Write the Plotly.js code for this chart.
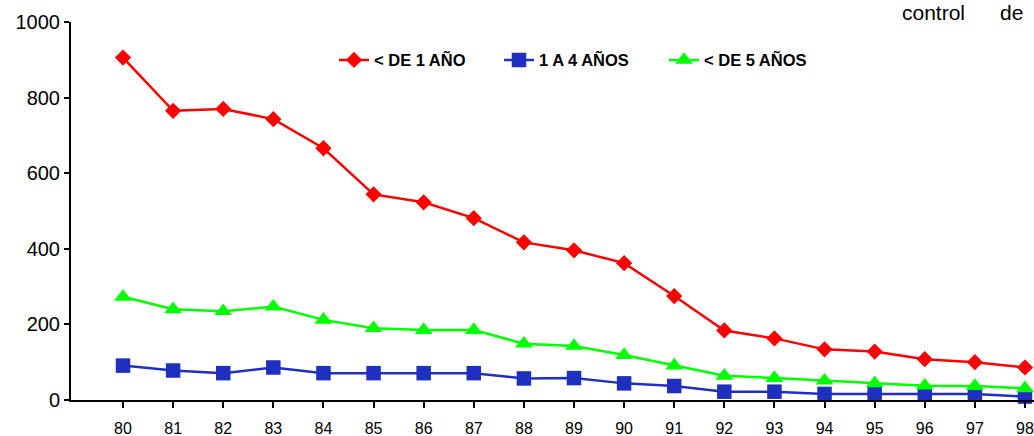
<!DOCTYPE html>
<html><head><meta charset="utf-8">
<script src="https://cdn.plot.ly/plotly-3.0.1.min.js"></script>
<style>html,body{margin:0;padding:0;background:#fff}#chart{width:1034px;height:436px}</style>
</head><body><div id="chart"></div>
<script>
const years = [80,81,82,83,84,85,86,87,88,89,90,91,92,93,94,95,96,97,98];
const yearLabels = ['80','81','82','83','84','85','86','87','88','89','90','91','92','93','94','95','96','97','98'];
const menor1 = [906,765,770,743,666,544,523,481,417,396,362,275,184,163,134,128,108,100,86];
const de1a4 = [91,78,71,86,71,71,71,71,57,58,44,37,22,22,16,16,16,16,9];
const menor5 = [273,240,235,247,212,190,185,185,149,143,119,91,64,58,51,44,38,37,31];
const seriesNames = ['< DE 1 AÑO','1 A 4 AÑOS','< DE 5 AÑOS'];
const yTicks = [0,200,400,600,800,1000];

const font = 'Liberation Sans, Arial, sans-serif';
const traces = [
  {x: years, y: menor1, name: seriesNames[0], mode: 'lines+markers', cliponaxis: false,
   line: {color: '#ff0000', width: 2.5}, marker: {symbol: 'diamond', size: 12.5, color: '#ff0000'}},
  {x: years, y: de1a4, name: seriesNames[1], mode: 'lines+markers', cliponaxis: false,
   line: {color: '#1f2fbf', width: 2.5}, marker: {symbol: 'square', size: 14.5, color: '#1f2fbf'}},
  {x: years, y: menor5, name: seriesNames[2], mode: 'lines+markers', cliponaxis: false,
   line: {color: '#00ff00', width: 2.5}, marker: {symbol: 'triangle-up', size: 15.5, color: '#00ff00'}}
];
const layout = {
  width: 1034, height: 436,
  margin: {l: 71, r: 0, t: 22, b: 36},
  paper_bgcolor: '#fff', plot_bgcolor: '#fff',
  font: {family: font, color: '#000'},
  showlegend: true,
  legend: {orientation: 'h', x: (334-71)/963, xanchor: 'left', y: 0.899, yanchor: 'middle', entrywidth: 120,
           font: {family: font, size: 16.5, color: '#000', weight: 'bold'}, bgcolor: 'rgba(0,0,0,0)'},
  xaxis: {range: [78.962, 98.18], tickvals: years, ticktext: yearLabels, showgrid: false, zeroline: false,
          showline: true, linecolor: '#000', linewidth: 2, ticks: 'outside', ticklen: 6, tickwidth: 2,
          tickcolor: '#000', tickfont: {family: font, size: 16, color: '#000'}, ticklabelstandoff: 7, fixedrange: true},
  xaxis2: {overlaying: 'x', matches: 'x', range: [78.962, 98.18], tickvals: years, showticklabels: false,
           showgrid: false, zeroline: false, showline: false, ticks: 'inside', ticklen: 6, tickwidth: 2,
           tickcolor: '#000', anchor: 'y', side: 'bottom'},
  yaxis: {range: [0, 1000], tickvals: yTicks, showgrid: false, zeroline: false, showline: true,
          linecolor: '#000', linewidth: 2, ticks: 'outside', ticklen: 5, tickwidth: 2, tickcolor: '#000',
          tickfont: {family: font, size: 20, color: '#000'}, fixedrange: true},
  annotations: [
    {text: 'control', xref: 'paper', yref: 'paper', x: (900-71)/963, y: 1, yshift: 10, xanchor: 'left', yanchor: 'middle',
     showarrow: false, font: {family: font, size: 21, color: '#000'}},
    {text: 'de', xref: 'paper', yref: 'paper', x: (998-71)/963, y: 1, yshift: 10, xanchor: 'left', yanchor: 'middle',
     showarrow: false, font: {family: font, size: 21, color: '#000'}}
  ]
};
Plotly.newPlot('chart', traces, layout, {displayModeBar: false, staticPlot: true});
</script></body></html>
